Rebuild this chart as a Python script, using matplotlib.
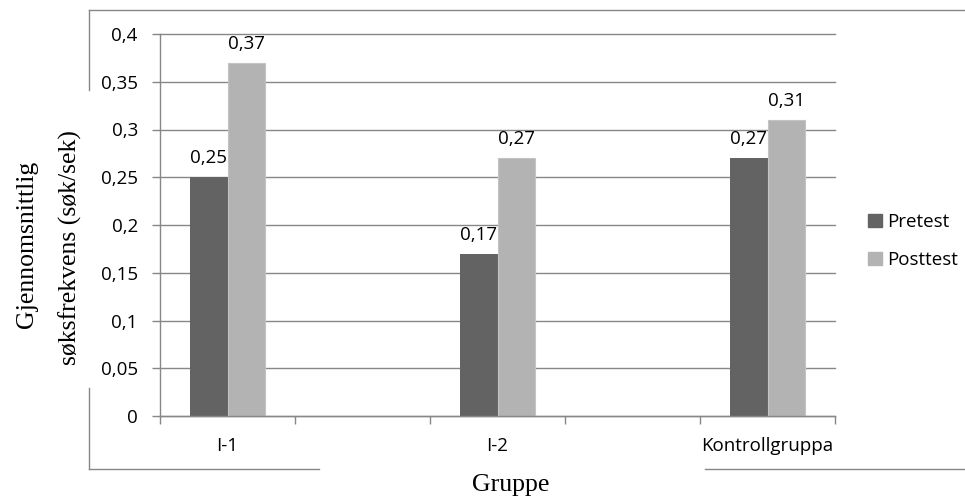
import numpy as np
import matplotlib.pyplot as plt
from matplotlib.lines import Line2D
from matplotlib.patches import Patch

# Mean search frequency per group, pre- and posttest
categories = ['I-1', 'I-2', 'Kontrollgruppa']
pretest = [0.25, 0.17, 0.27]
posttest = [0.37, 0.27, 0.31]
series_names = ['Pretest', 'Posttest']
yticks = [0, 0.05, 0.1, 0.15, 0.2, 0.25, 0.3, 0.35, 0.4]

PRE_COLOR = '#636363'
POST_COLOR = '#b3b3b3'
LINE_COLOR = '#878787'
FS = 13.5

plt.rcParams['font.family'] = ['Open Sans', 'DejaVu Sans']

W, H = 965, 497


def fx(x):
    return x / W


def fy(y):
    return 1 - y / H


def comma(v):
    return f'{v:g}'.replace('.', ',')


fig = plt.figure(figsize=(W / 100, H / 100), dpi=100)
ax = fig.add_axes([fx(160), fy(416), (835 - 160) / W, (416 - 34) / H])

# every group sits in its own slot with an empty slot between groups
x = np.arange(len(categories)) * 2
bw = 0.28
ax.bar(x - bw / 2, pretest, bw, color=PRE_COLOR, zorder=2)
ax.bar(x + bw / 2, posttest, bw, color=POST_COLOR, edgecolor='#c4c4c4',
       linewidth=0.8, zorder=2)

for xs, vals in ((x - bw / 2, pretest), (x + bw / 2, posttest)):
    for xi, v in zip(xs, vals):
        ax.annotate(comma(v), (xi, v), xytext=(0, 10), textcoords='offset points',
                    ha='center', va='baseline', fontsize=FS, color='black')

ax.set_xlim(-0.5, x[-1] + 0.5)
ax.set_ylim(0, 0.4)
ax.set_yticks(yticks)
ax.set_yticklabels([comma(v) for v in yticks])
ax.set_xticks(x)
ax.set_xticklabels(categories)
ax.set_xticks(np.arange(-0.5, x[-1] + 1, 1), minor=True)

ax.tick_params(axis='y', length=6, width=1, color=LINE_COLOR, pad=10, labelsize=FS)
ax.tick_params(axis='x', which='major', length=0, pad=15, labelsize=FS)
ax.tick_params(axis='x', which='minor', length=6, width=1, color=LINE_COLOR)

for side in ('top', 'right'):
    ax.spines[side].set_visible(False)
for side in ('left', 'bottom'):
    ax.spines[side].set_color(LINE_COLOR)
    ax.spines[side].set_linewidth(1)

ax.yaxis.grid(True, color=LINE_COLOR, linewidth=1)
ax.set_axisbelow(True)
for gl in ax.get_ygridlines():
    gl.set_clip_on(False)

handles = [Patch(color=PRE_COLOR), Patch(color=POST_COLOR)]
fig.legend(handles, series_names, loc='center left',
           bbox_to_anchor=(fx(859), fy(241)), frameon=False, fontsize=FS,
           handlelength=0.7, handleheight=0.7, handletextpad=0.3,
           labelspacing=1.05, borderpad=0)

# axis titles
serif = 'Liberation Serif'
fig.text(fx(33), fy(244), 'Gjennomsnittlig', rotation=90, rotation_mode='anchor',
         ha='center', va='baseline', family=serif, fontsize=18.5)
fig.text(fx(77), fy(248), 'søksfrekvens (søk/sek)', rotation=90, rotation_mode='anchor',
         ha='center', va='baseline', family=serif, fontsize=18.5)
fig.text(fx(511), fy(491), 'Gruppe', ha='center', va='baseline',
         family=serif, fontsize=18.5)

# outer frame, broken where the axis titles sit
frame = [
    ((89, 10), (W, 10)),
    ((89, 10), (89, 90)),
    ((89, 388), (89, 469)),
    ((89, 469), (319, 469)),
    ((705, 469), (W, 469)),
]
for (x0, y0), (x1, y1) in frame:
    fig.add_artist(Line2D([fx(x0), fx(x1)], [fy(y0), fy(y1)],
                          transform=fig.transFigure, color=LINE_COLOR, linewidth=1))

fig.savefig('out.png', dpi=100)
